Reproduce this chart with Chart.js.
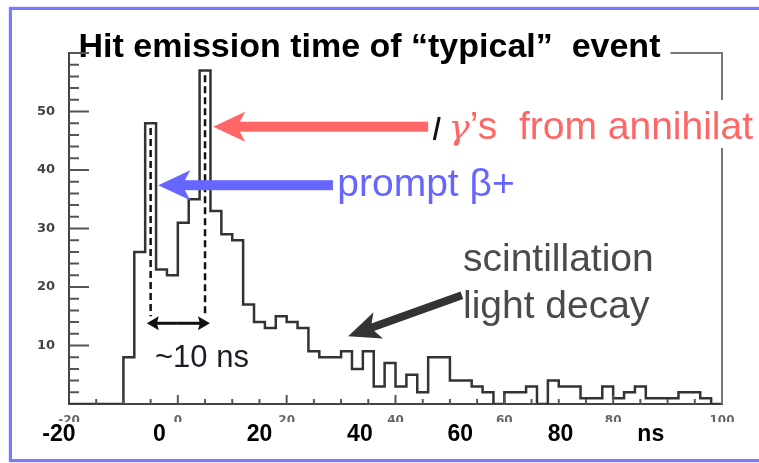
<!DOCTYPE html>
<html>
<head>
<meta charset="utf-8">
<script src="https://cdn.jsdelivr.net/npm/chart.js"></script>
<style>
  html, body { margin: 0; padding: 0; width: 759px; height: 463px; overflow: hidden; background: #fff; }
  #frame { position: absolute; left: 9px; top: 7px; width: 800px; height: 449px;
           border: 3px solid #7a7aff; box-shadow: 0 0 2px #b4b4ff; }
  #c { position: absolute; left: 0; top: 0; }
</style>
</head>
<body>
<div id="frame"></div>
<canvas id="c" width="759" height="463"></canvas>
<script>
// hit time histogram, 2 ns bins (left edge of each bin)
const binStart = [-20, -18, -16, -14, -12, -10, -8, -6, -4, -2,
                  0, 2, 4, 6, 8, 10, 12, 14, 16, 18,
                  20, 22, 24, 26, 28, 30, 32, 34, 36, 38,
                  40, 42, 44, 46, 48, 50, 52, 54, 56, 58,
                  60, 62, 64, 66, 68, 70, 72, 74, 76, 78,
                  80, 82, 84, 86, 88, 90, 92, 94, 96, 98];
const binEnd = 100;
const counts = [0, 0, 0, 0, 0, 8, 26, 48, 23, 22,
                31, 35, 57, 33, 29, 28, 17, 14, 13, 15,
                14, 13, 9, 8, 8, 9, 6, 9, 3, 7,
                3, 5, 2, 8, 8, 4, 4, 3, 2, 0,
                2, 2, 3, 0, 4, 3, 3, 1, 1, 3,
                1, 2, 3, 1, 1, 1, 2, 2, 1, 0];

// the two peaks marked with dashed lines (bin start)
const peakBins = [-6, 4];

// big labels pasted under the plot, and where they sit
const overlayLabels = ['-20', '0', '20', '40', '60', '80', 'ns'];
const overlayAt = [-20, 0, 20, 40, 60, 80, 98];

const titleText = 'Hit emission time of \u201Ctypical\u201D  event';

// histogram points: value holds from the bin start to the next one
const histPoints = binStart.map((b, i) => ({ x: b, y: counts[i] }));
histPoints.push({ x: binEnd, y: counts[counts.length - 1] });

function arrow(ctx, x1, y1, x2, y2, w, hl, hw, notch, color) {
  const ang = Math.atan2(y2 - y1, x2 - x1);
  const len = Math.hypot(x2 - x1, y2 - y1);
  ctx.save();
  ctx.translate(x1, y1);
  ctx.rotate(ang);
  ctx.fillStyle = color;
  ctx.fillRect(0, -w / 2, len - hl + notch + 1, w);
  ctx.beginPath();
  ctx.moveTo(len, 0);
  ctx.lineTo(len - hl, -hw);
  ctx.lineTo(len - hl + notch, 0);
  ctx.lineTo(len - hl, hw);
  ctx.closePath();
  ctx.fill();
  ctx.restore();
}

const decor = {
  id: 'decor',
  afterDatasetsDraw(chart) {
    const { ctx, chartArea: a, scales: { x, y } } = chart;
    const X = v => x.getPixelForValue(v);
    const Y = v => y.getPixelForValue(v);
    ctx.save();

    // inward tick marks
    ctx.strokeStyle = '#555';
    ctx.lineWidth = 2;
    ctx.beginPath();
    for (let v = 2; v <= 60; v += 2) {
      const len = v % 10 === 0 ? 20 : 10;
      ctx.moveTo(a.left, Y(v)); ctx.lineTo(a.left + len, Y(v));
    }
    for (let v = -15; v < 100; v += 5) {
      const len = v % 20 === 0 ? 9 : 5;
      ctx.moveTo(X(v), a.bottom); ctx.lineTo(X(v), a.bottom - len);
    }
    ctx.stroke();

    // right + top frame (title hides the left part of the top line)
    ctx.font = 'bold 34px "Liberation Sans"';
    const tw = ctx.measureText(titleText).width;
    const titleRight = (chart.titleBlock.left + chart.titleBlock.right) / 2 + tw / 2;
    ctx.strokeStyle = '#777';
    ctx.beginPath();
    ctx.moveTo(titleRight + 10, a.top);
    ctx.lineTo(a.right, a.top);
    ctx.lineTo(a.right, a.bottom);
    ctx.stroke();

    // dashed lines through the two peaks
    ctx.strokeStyle = '#111';
    ctx.lineWidth = 2.5;
    ctx.setLineDash([7, 4]);
    peakBins.forEach(b => {
      const i = binStart.indexOf(b);
      const xc = X(b + 1);
      ctx.beginPath();
      ctx.moveTo(xc, Y(counts[i] - 0.8));
      ctx.lineTo(xc, Y(15));
      ctx.stroke();
    });
    ctx.setLineDash([]);

    // ~10 ns double arrow
    const ay = Y(13.8);
    arrow(ctx, X(0), ay, X(-5.7), ay, 3, 12, 7, 2, '#111');
    arrow(ctx, X(0), ay, X(5.9), ay, 3, 12, 7, 2, '#111');
    ctx.fillStyle = '#1c1c28';
    ctx.font = '31px "Liberation Sans"';
    ctx.textBaseline = 'alphabetic';
    ctx.fillText('~10 ns', X(-4.2), Y(6.3));

    // gamma annotation with its white box
    const gx = X(49.7), gy = Y(45.3);
    ctx.fillStyle = '#fff';
    ctx.fillRect(gx - 8, gy - 39, chart.width - gx + 8, 48);
    ctx.strokeStyle = '#111';
    ctx.lineWidth = 3;
    ctx.beginPath();
    ctx.moveTo(gx - 14, gy + 1);
    ctx.lineTo(gx - 9, gy - 22);
    ctx.stroke();
    arrow(ctx, X(46), Y(47.4), X(6.5), Y(47.4), 10, 32, 15, 8, '#ff6666');
    ctx.fillStyle = '#ff6666';
    ctx.font = 'italic 36px "DejaVu Serif"';
    ctx.fillText('\u03B3', gx, gy);
    const gw = ctx.measureText('\u03B3').width;
    ctx.font = '39px "Liberation Sans"';
    ctx.fillText('\u2019s  from annihilat', gx + gw, gy);

    // prompt beta+
    arrow(ctx, X(28.5), Y(37.4), X(-3.6), Y(37.4), 10, 32, 15, 8, '#6666ff');
    ctx.fillStyle = '#6666ff';
    ctx.fillText('prompt \u03B2+', X(29.3), Y(35.6));

    // scintillation light decay
    arrow(ctx, X(52.2), Y(18.6), X(31.3), Y(11.6), 8, 32, 14, 8, '#333');
    ctx.fillStyle = '#4a4a4a';
    ctx.fillText('scintillation', X(52.4), Y(22.7));
    ctx.fillText('light decay', X(52.4), Y(14.7));

    ctx.restore();
  }
};

new Chart(document.getElementById('c'), {
  type: 'line',
  data: {
    datasets: [{
      data: histPoints,
      stepped: 'before',
      borderColor: '#333',
      borderWidth: 2.5,
      pointRadius: 0,
      fill: false,
      tension: 0
    }]
  },
  options: {
    responsive: false,
    animation: false,
    layout: { autoPadding: false, padding: { left: 17, right: 37, top: 0, bottom: 0 } },
    plugins: {
      legend: { display: false },
      tooltip: { enabled: false },
      title: {
        display: true,
        text: titleText,
        color: '#000',
        font: { family: 'Liberation Sans', size: 34, weight: 'bold', lineHeight: 1 },
        padding: { top: 31, bottom: -12 }
      }
    },
    scales: {
      x: {
        type: 'linear', position: 'bottom', weight: 0,
        min: -20, max: 100,
        grid: { display: false },
        border: { display: true, color: '#444', width: 2 },
        ticks: { stepSize: 20, autoSkip: false, maxRotation: 0, padding: 2,
                 color: '#666', font: { family: 'DejaVu Sans', size: 12, weight: 'bold' } },
        afterFit: s => { s.height = 18; }
      },
      x2: {
        type: 'linear', position: 'bottom', weight: 1,
        min: -18, max: 112.2,
        grid: { display: false },
        border: { display: false },
        afterBuildTicks: s => { s.ticks = overlayAt.map(v => ({ value: v })); },
        ticks: { autoSkip: false, maxRotation: 0, padding: -9,
                 callback: (v, i) => overlayLabels[i],
                 color: '#000', font: { family: 'Liberation Sans', size: 23, weight: 'bold' } },
        afterFit: s => { s.height = 41; }
      },
      y: {
        min: 0, max: 60,
        grid: { display: false },
        border: { display: true, color: '#444', width: 2 },
        ticks: { stepSize: 10, padding: 6,
                 callback: v => (v === 0 || v === 60) ? '' : v,
                 color: '#444', font: { family: 'DejaVu Sans', size: 13, weight: 'bold' } },
        afterFit: s => { s.width = 52; }
      }
    }
  },
  plugins: [decor]
});
</script>
</body>
</html>
